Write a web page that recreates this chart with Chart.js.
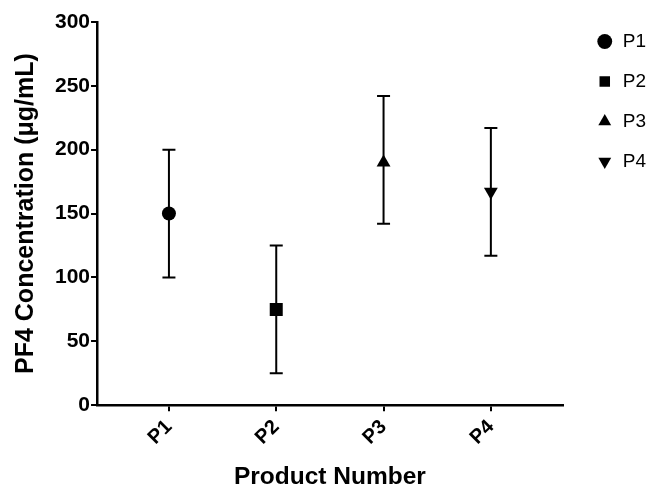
<!DOCTYPE html>
<html>
<head>
<meta charset="utf-8">
<script src="https://cdn.jsdelivr.net/npm/chart.js@4.4.1/dist/chart.umd.min.js"></script>
<style>
  html, body { margin: 0; padding: 0; background: #fff; }
  #wrap { width: 652px; height: 485px; position: relative; }
</style>
</head>
<body>
<div id="wrap"><canvas id="chart"></canvas></div>
<script>
const products = ['P1', 'P2', 'P3', 'P4'];
const means = [150, 75, 190, 167];
const lowerBounds = [100, 25, 142, 117];
const upperBounds = [200, 125, 242, 217];
const yTicks = [0, 50, 100, 150, 200, 250, 300];

const markerStyles = ['circle', 'rect', 'triangle', 'triangle'];
const markerRotation = [0, 0, 0, 180];
const markerRadius = [7, 9.2, 8, 8];

const FONT = "'Liberation Sans', Arial, Helvetica, sans-serif";

// vertical error bars with caps, drawn under the markers
const errorBars = {
    id: 'errorBars',
    beforeDatasetsDraw(chart) {
        const ctx = chart.ctx;
        const xs = chart.scales.x, ys = chart.scales.y;
        ctx.save();
        ctx.strokeStyle = '#000';
        ctx.lineWidth = 2;
        products.forEach((p, i) => {
            const x = xs.getPixelForValue(i);
            const top = ys.getPixelForValue(upperBounds[i]);
            const bot = ys.getPixelForValue(lowerBounds[i]);
            ctx.beginPath();
            ctx.moveTo(x, top); ctx.lineTo(x, bot);
            ctx.moveTo(x - 6.5, top); ctx.lineTo(x + 6.5, top);
            ctx.moveTo(x - 6.5, bot); ctx.lineTo(x + 6.5, bot);
            ctx.stroke();
        });
        ctx.restore();
    }
};

new Chart(document.getElementById('chart'), {
    type: 'scatter',
    data: {
        datasets: products.map((p, i) => ({
            label: p,
            data: [{ x: i, y: means[i] }],
            pointStyle: markerStyles[i],
            rotation: markerRotation[i],
            pointRadius: markerRadius[i],
            pointHoverRadius: markerRadius[i],
            backgroundColor: '#000',
            borderColor: '#000',
            borderWidth: 0
        }))
    },
    options: {
        responsive: true,
        maintainAspectRatio: false,
        animation: false,
        layout: { padding: { top: 11, right: -4, bottom: -7, left: 11 } },
        plugins: {
            tooltip: { enabled: false },
            // empty spacer so the plot starts lower than the legend
            title: { display: true, text: '', padding: 0, font: { size: 9 } },
            legend: {
                position: 'right',
                align: 'start',
                labels: {
                    usePointStyle: true,
                    boxHeight: 10.5,
                    boxWidth: 17,
                    padding: 21,
                    color: '#000',
                    font: { family: FONT, size: 19 }
                }
            }
        },
        scales: {
            x: {
                type: 'linear',
                min: -0.67,
                max: 3.67,
                afterBuildTicks: s => { s.ticks = products.map((p, i) => ({ value: i })); },
                ticks: {
                    callback: v => products[v],
                    maxRotation: 45,
                    minRotation: 45,
                    color: '#000',
                    padding: 4,
                    font: { family: FONT, size: 20, weight: 'bold' }
                },
                grid: { drawOnChartArea: false, color: '#000', lineWidth: 2, tickLength: 6 },
                border: { color: '#000', width: 2.5 },
                title: {
                    display: true,
                    text: 'Product Number',
                    color: '#000',
                    padding: { top: 9, bottom: 0 },
                    font: { family: FONT, size: 24.5, weight: 'bold' }
                }
            },
            y: {
                min: 0,
                max: 300,
                afterBuildTicks: s => { s.ticks = yTicks.map(v => ({ value: v })); },
                ticks: {
                    color: '#000',
                    padding: 1,
                    font: { family: FONT, size: 21, weight: 'bold' }
                },
                grid: { drawOnChartArea: false, color: '#000', lineWidth: 2, tickLength: 6 },
                border: { color: '#000', width: 2.5 },
                title: {
                    display: true,
                    text: 'PF4 Concentration (μg/mL)',
                    color: '#000',
                    padding: { top: 0, bottom: 13 },
                    font: { family: FONT, size: 25, weight: 'bold' }
                }
            },
            // blank strip between the plot and the legend
            gap: {
                position: 'right',
                ticks: { display: false },
                grid: { display: false },
                border: { display: false },
                afterFit: s => { s.width = 12.5; }
            }
        }
    },
    plugins: [errorBars]
});
</script>
</body>
</html>
